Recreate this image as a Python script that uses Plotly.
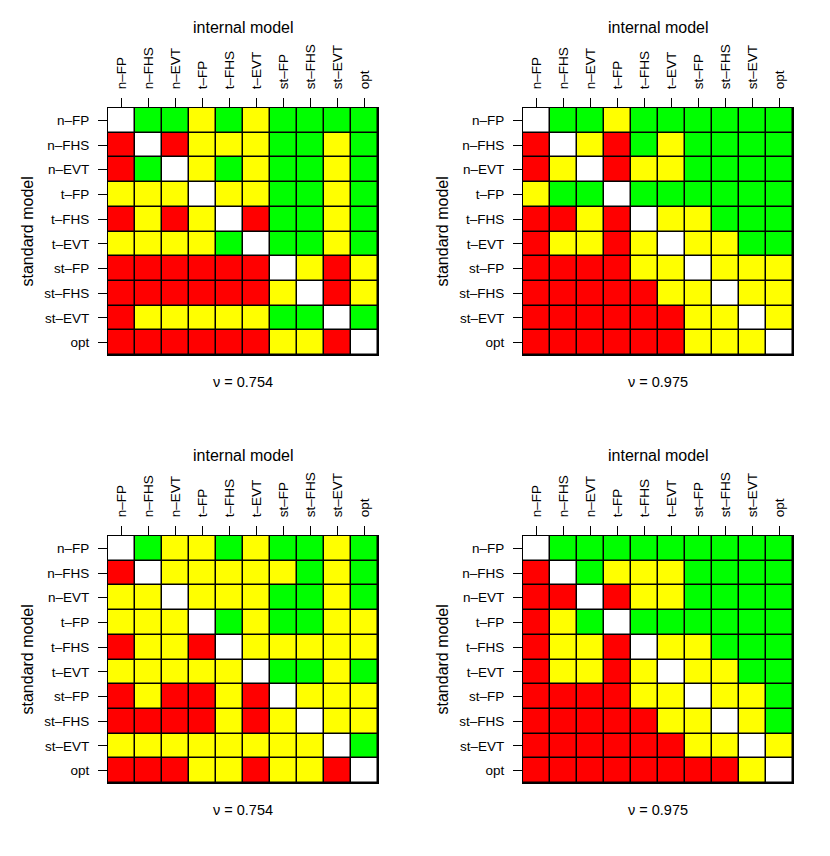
import plotly.graph_objects as go

# model names (rows = standard model, columns = internal model)
models = ["n–FP", "n–FHS", "n–EVT", "t–FP", "t–FHS", "t–EVT",
          "st–FP", "st–FHS", "st–EVT", "opt"]

# cell outcome per panel: W = diagonal, R = red, Y = yellow, G = green
panel_a = ["WGGYGYGGGG",
           "RWRYYYGGYG",
           "RGWYGYGGYG",
           "YYYWYYGGYG",
           "RYRYWRGGYG",
           "YYYYGWGGYG",
           "RRRRRRWYRY",
           "RRRRRRYWRY",
           "RYYYYYGGWG",
           "RRRRRRYYRW"]

panel_b = ["WGGYGGGGGG",
           "RWYRGYGGGG",
           "RYWRYYGGGG",
           "YGGWGGGGGG",
           "RRYRWYYGGG",
           "RYYRYWYYGG",
           "RRRRYYWYYY",
           "RRRRRYYWYY",
           "RRRRRRYYWY",
           "RRRRRRYYYW"]

panel_c = ["WGYYGYGGYG",
           "RWYYYYYGYG",
           "YYWYYYGGYG",
           "YYYWGYGGYY",
           "RYYRWYYYYY",
           "YYYYYWGGYG",
           "RYRRYRWYYY",
           "RRRRYRYWYY",
           "YYYYYYYYWG",
           "RRRYYRYYRW"]

panel_d = ["WGGGGGGGGG",
           "RWGYYYGGGG",
           "RRWRYYGGGG",
           "RYGWGGGGGG",
           "RYYRWYYGGG",
           "RYYRYWYYGG",
           "RRRRYYWYYG",
           "RRRRRYYWYG",
           "RRRRRRYYWY",
           "RRRRRRRRYW"]

nu_values = ["0.754", "0.975", "0.754", "0.975"]

code = {"W": 0, "R": 1, "Y": 2, "G": 3}
cscale = [[0, "#FFFFFF"], [1/6, "#FFFFFF"],
          [1/6, "#FF0000"], [0.5, "#FF0000"],
          [0.5, "#FFFF00"], [5/6, "#FFFF00"],
          [5/6, "#00FF00"], [1, "#00FF00"]]

W, H = 830, 856
OFF = 8  # page body margin
FONT = "Liberation Sans, Arial, Helvetica, sans-serif"

# pixel boxes of the four grids on the page: (left, right, top, bottom)
boxes = [(108, 378, 108, 355), (523, 793, 108, 355),
         (108, 378, 536, 783), (523, 793, 536, 783)]


def px(x):
    return (x - OFF) / W


def py(y):
    return 1 - (y - OFF) / H


fig = go.Figure()
annotations = []
for i, (panel, nu, box) in enumerate(zip([panel_a, panel_b, panel_c, panel_d], nu_values, boxes)):
    z = [[code[c] for c in row] for row in panel]
    xa = "x" if i == 0 else f"x{i+1}"
    ya = "y" if i == 0 else f"y{i+1}"
    fig.add_trace(go.Heatmap(
        z=z, x=models, y=models, xaxis=xa, yaxis=ya,
        colorscale=cscale, zmin=0, zmax=3, showscale=False,
        xgap=1.5, ygap=1.5, hoverinfo="skip"))

    l, r, t, b = box
    axis_common = dict(showline=True, mirror=True, linecolor="black", linewidth=1,
                       ticks="outside", ticklen=9, tickcolor="black", tickwidth=1,
                       showgrid=False, zeroline=False, ticklabelstandoff=6,
                       automargin=False,
                       tickfont=dict(family=FONT, size=13.5, color="black"),
                       fixedrange=True)
    fig.layout[("xaxis" if i == 0 else f"xaxis{i+1}")] = dict(
        domain=[px(l), px(r)], anchor=ya, side="top", tickangle=-90, **axis_common)
    fig.layout[("yaxis" if i == 0 else f"yaxis{i+1}")] = dict(
        domain=[py(b), py(t)], anchor=xa, autorange="reversed", **axis_common)

    cx = px((l + r) / 2)
    common = dict(xref="paper", yref="paper", showarrow=False,
                  xanchor="center", yanchor="middle")
    annotations.append(dict(text="internal model", x=cx, y=py(t - 80),
                            font=dict(family=FONT, size=16, color="black"), **common))
    annotations.append(dict(text="standard model", x=px(l - 81), y=py((t + b) / 2),
                            textangle=-90,
                            font=dict(family=FONT, size=16, color="black"), **common))
    annotations.append(dict(text=f"ν = {nu}", x=cx, y=py(b + 27),
                            font=dict(family=FONT, size=14.5, color="black"), **common))

fig.update_layout(width=W, height=H, margin=dict(l=0, r=0, t=0, b=0),
                  plot_bgcolor="black", paper_bgcolor="white",
                  annotations=annotations, showlegend=False)

fig.write_html("out.html")
